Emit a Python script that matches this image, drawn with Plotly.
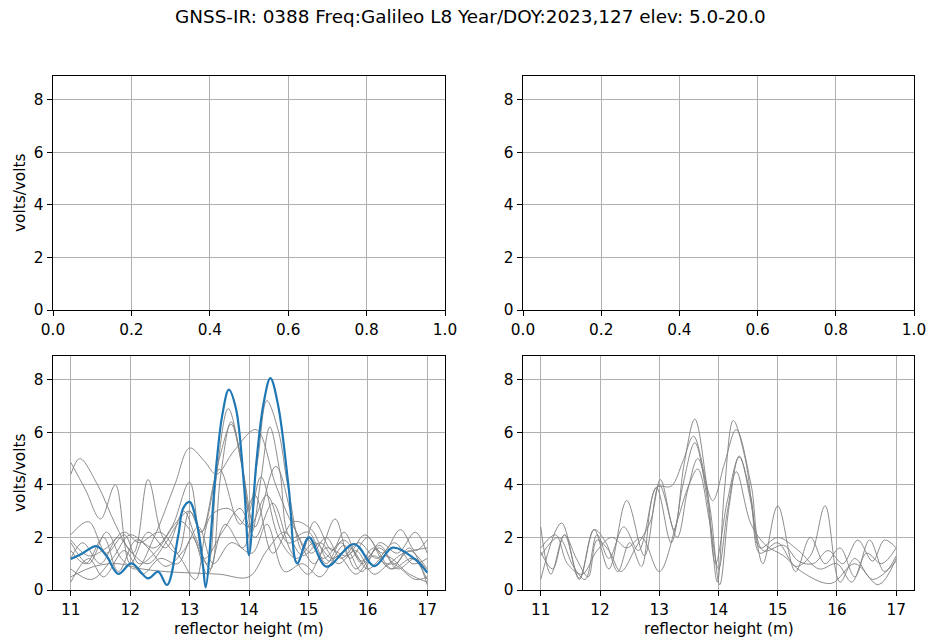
import plotly.graph_objects as go

TITLE = "GNSS-IR: 0388 Freq:Galileo L8 Year/DOY:2023,127 elev: 5.0-20.0"

# Blue (highlighted) track, bottom-left panel
blue_x = [11.0, 11.2, 11.43, 11.6, 11.8, 12.02, 12.3, 12.47, 12.62, 12.81, 12.89, 13.0, 13.14, 13.23, 13.27,
          13.45, 13.55, 13.66, 13.78, 13.92, 14.0, 14.12, 14.24, 14.36, 14.49, 14.67,
          14.81, 15.01, 15.3, 15.77, 16.11, 16.42, 16.79, 17.0]
blue_y = [1.18, 1.4, 1.67, 1.3, 0.61, 1.01, 0.44, 0.70, 0.19, 2.09, 3.1, 3.35, 2.34, 0.82, 0.10,
          4.75, 6.65, 7.62, 6.9, 3.86, 1.33, 4.75, 7.03, 8.06, 7.03, 3.86,
          1.01, 2.00, 0.89, 1.75, 0.91, 1.61, 1.18, 0.66]

# Gray tracks, bottom-left panel
gl1_x = [11.0, 11.15, 11.45, 11.75, 12.0, 12.3, 12.6, 12.85, 13.0, 13.3, 13.45, 13.65, 13.85, 14.0, 14.15, 14.3, 14.5, 14.65, 14.9, 15.1, 15.4, 15.6, 15.9, 16.2, 16.45, 16.7, 17.0]
gl1_y = [4.4, 5.0, 4.0, 2.5, 1.5, 1.0, 1.8, 2.6, 2.3, 1.0, 4.3, 6.9, 5.2, 3.0, 5.0, 7.2, 6.0, 4.0, 1.5, 2.6, 1.5, 2.2, 1.0, 1.7, 1.0, 1.5, 0.8]
gl2_x = [11.0, 11.25, 11.5, 11.75, 12.0, 12.3, 12.6, 12.9, 13.1, 13.35, 13.52, 13.7, 13.9, 14.05, 14.2, 14.35, 14.52, 14.7, 15.0, 15.3, 15.55, 15.8, 16.1, 16.4, 16.75, 17.0]
gl2_y = [4.85, 3.8, 2.7, 4.0, 1.0, 2.2, 1.6, 3.0, 2.0, 0.8, 4.3, 6.4, 4.5, 2.2, 4.2, 6.2, 4.5, 2.0, 2.2, 1.0, 1.8, 0.8, 1.6, 0.8, 1.2, 0.4]
gl3_x = [11.0, 11.3, 11.6, 11.85, 12.1, 12.4, 12.75, 13.0, 13.25, 13.45, 13.75, 14.12, 14.45, 14.75, 15.05, 15.3, 15.55, 15.85, 16.15, 16.45, 16.75, 17.0]
gl3_y = [1.8, 1.0, 2.2, 1.2, 0.8, 2.0, 4.0, 5.4, 4.9, 4.4, 5.3, 6.1, 4.0, 2.4, 1.4, 2.0, 1.2, 1.8, 1.2, 1.8, 1.0, 1.2]
gl4_x = [11.0, 11.2, 11.5, 11.8, 12.05, 12.3, 12.55, 12.8, 13.0, 13.2, 13.5, 13.7, 13.9, 14.1, 14.45, 14.8, 15.1, 15.45, 15.7, 16.0, 16.3, 16.6, 17.0]
gl4_y = [1.2, 1.8, 1.0, 2.0, 1.4, 4.2, 2.0, 1.4, 3.0, 2.2, 5.0, 6.3, 4.5, 2.4, 4.7, 2.2, 1.0, 2.7, 1.2, 2.0, 1.0, 1.4, 1.6]
gl5_x = [11.0, 11.3, 11.55, 11.9, 12.2, 12.5, 12.8, 13.05, 13.3, 13.6, 13.9, 14.2, 14.5, 14.8, 15.1, 15.4, 15.7, 16.0, 16.3, 16.7, 17.0]
gl5_y = [0.3, 1.2, 0.5, 1.5, 0.6, 1.2, 1.0, 2.0, 0.6, 2.5, 1.6, 4.3, 2.0, 1.2, 1.8, 1.2, 1.6, 0.8, 1.3, 0.6, 0.3]
gl6_x = [11.0, 11.4, 11.8, 12.2, 12.6, 13.0, 13.5, 14.0, 14.3, 14.6, 14.9, 15.2, 15.5, 15.8, 16.1, 16.4, 16.8, 17.0]
gl6_y = [0.5, 0.9, 1.0, 0.8, 0.7, 0.65, 0.6, 0.5, 1.5, 2.2, 1.3, 1.8, 1.0, 1.5, 0.6, 1.0, 0.4, 0.5]
gl7_x = [11.0, 11.3, 11.6, 11.9, 12.15, 12.45, 12.75, 13.0, 13.2, 13.5, 13.85, 14.1, 14.4, 14.75, 15.05, 15.35, 15.6, 15.9, 16.2, 16.5, 16.8, 17.0]
gl7_y = [2.1, 2.6, 1.4, 2.1, 1.0, 1.5, 2.5, 3.0, 2.2, 4.6, 2.5, 3.6, 1.4, 2.6, 2.3, 1.1, 1.7, 0.7, 1.8, 1.4, 2.2, 1.4]
gl8_x = [11.0, 11.25, 11.55, 11.8, 12.1, 12.4, 12.7, 13.0, 13.25, 13.55, 13.85, 14.1, 14.4, 14.7, 15.0, 15.3, 15.65, 15.95, 16.25, 16.55, 16.8, 17.0]
gl8_y = [1.5, 1.0, 2.0, 0.7, 1.9, 1.6, 2.4, 4.1, 1.2, 2.2, 3.1, 2.0, 3.3, 1.5, 0.6, 1.6, 1.3, 2.1, 1.4, 2.3, 1.5, 1.9]
gl9_x = [11.0, 11.35, 11.7, 12.0, 12.3, 12.6, 12.9, 13.15, 13.4, 13.7, 14.05, 14.3, 14.6, 14.9, 15.2, 15.5, 15.8, 16.1, 16.4, 16.7, 17.0]
gl9_y = [0.8, 0.4, 1.2, 2.1, 1.6, 0.9, 1.5, 2.4, 1.0, 1.8, 1.4, 2.5, 0.7, 1.0, 0.5, 1.3, 0.6, 1.3, 0.8, 1.6, 0.2]
gl10_x = [11.0, 11.3, 11.6, 11.9, 12.15, 12.5, 12.85, 13.1, 13.35, 13.65, 14.0, 14.3, 14.65, 14.95, 15.25, 15.6, 15.9, 16.2, 16.5, 16.8, 17.0]
gl10_y = [1.9, 1.3, 1.6, 2.2, 1.8, 2.2, 1.2, 0.4, 2.8, 3.1, 2.4, 3.6, 1.8, 2.0, 1.2, 1.9, 1.1, 1.6, 0.8, 1.2, 0.7]

# Gray tracks, bottom-right panel
gr1_x = [11.0, 11.2, 11.4, 11.6, 11.8, 11.95, 12.15, 12.35, 12.6, 12.85, 13.02, 13.25, 13.42, 13.6, 13.8, 13.98, 14.1, 14.25, 14.45, 14.6, 14.75, 15.0, 15.3, 15.55, 15.8, 16.05, 16.3, 16.55, 16.8, 17.0]
gr1_y = [1.45, 0.8, 2.1, 1.2, 0.5, 1.9, 1.5, 0.7, 1.6, 2.6, 4.2, 2.3, 4.8, 6.5, 4.0, 0.3, 3.8, 6.45, 5.0, 2.6, 1.0, 3.2, 0.7, 2.0, 1.0, 1.6, 0.5, 1.9, 0.7, 1.3]
gr2_x = [11.0, 11.17, 11.4, 11.65, 11.9, 12.1, 12.3, 12.5, 12.7, 12.95, 13.2, 13.4, 13.58, 13.9, 14.1, 14.3, 14.55, 14.75, 15.1, 15.35, 15.6, 15.85, 16.1, 16.35, 16.6, 16.8, 17.0]
gr2_y = [2.4, 0.6, 2.1, 0.4, 2.3, 1.8, 0.7, 1.8, 0.9, 3.9, 3.95, 4.9, 5.85, 3.4, 4.8, 6.1, 4.0, 1.5, 1.7, 1.1, 1.0, 1.5, 1.0, 1.9, 1.1, 1.9, 1.6]
gr3_x = [11.0, 11.3, 11.55, 11.75, 11.95, 12.15, 12.4, 12.65, 12.95, 13.2, 13.4, 13.6, 13.8, 13.95, 14.15, 14.35, 14.55, 14.7, 15.0, 15.35, 15.7, 16.0, 16.25, 16.5, 16.75, 17.0]
gr3_y = [1.3, 2.0, 0.9, 0.4, 2.1, 1.2, 2.4, 1.5, 3.9, 1.8, 4.0, 5.6, 3.6, 1.0, 3.4, 5.05, 3.5, 1.6, 2.0, 1.5, 0.8, 1.0, 0.3, 1.4, 1.0, 1.6]
gr4_x = [11.0, 11.35, 11.65, 11.9, 12.15, 12.45, 12.75, 13.0, 13.3, 13.48, 13.65, 13.85, 14.02, 14.18, 14.35, 14.55, 14.7, 15.0, 15.3, 15.55, 15.8, 16.05, 16.3, 16.6, 17.0]
gr4_y = [0.4, 2.55, 0.45, 2.3, 0.8, 3.4, 1.3, 4.0, 2.0, 3.8, 5.0, 3.2, 0.2, 3.2, 5.1, 3.3, 1.4, 1.8, 0.9, 1.3, 3.2, 0.3, 1.2, 0.4, 1.1]
gr5_x = [11.0, 11.25, 11.45, 11.7, 11.95, 12.2, 12.45, 12.7, 13.0, 13.3, 13.5, 13.65, 13.85, 14.0, 14.15, 14.3, 14.55, 14.8, 15.1, 15.4, 15.9, 16.3, 16.7, 17.0]
gr5_y = [1.6, 2.1, 1.0, 0.6, 1.5, 2.0, 1.6, 2.0, 0.7, 2.6, 4.0, 4.6, 2.6, 0.8, 3.0, 4.5, 2.5, 1.7, 1.3, 0.7, 0.25, 1.0, 0.2, 1.2]

X_TOP_TICKS = [0.0, 0.2, 0.4, 0.6, 0.8, 1.0]
X_BOT_TICKS = [11, 12, 13, 14, 15, 16, 17]
Y_TICKS = [0, 2, 4, 6, 8]
Y_LABEL = "volts/volts"
X_LABEL = "reflector height (m)"

W, H = 931, 641
FONT = "DejaVu Sans"
FS = 15.3
GRAY = "#808080"
BLUE = "#1f77b4"

fig = go.Figure()

left_gray = [(gl1_x, gl1_y), (gl2_x, gl2_y), (gl3_x, gl3_y), (gl4_x, gl4_y), (gl5_x, gl5_y),
             (gl6_x, gl6_y), (gl7_x, gl7_y), (gl8_x, gl8_y), (gl9_x, gl9_y), (gl10_x, gl10_y)]
for xs, ys in left_gray:
    fig.add_trace(go.Scatter(x=xs, y=ys, mode="lines", xaxis="x3", yaxis="y3",
                             line=dict(color=GRAY, width=0.9, shape="spline", smoothing=1.0),
                             showlegend=False, hoverinfo="skip"))
fig.add_trace(go.Scatter(x=blue_x, y=blue_y, mode="lines", xaxis="x3", yaxis="y3",
                         line=dict(color=BLUE, width=2.2, shape="spline", smoothing=1.0),
                         showlegend=False))

right_gray = [(gr1_x, gr1_y), (gr2_x, gr2_y), (gr3_x, gr3_y), (gr4_x, gr4_y), (gr5_x, gr5_y)]
for xs, ys in right_gray:
    fig.add_trace(go.Scatter(x=xs, y=ys, mode="lines", xaxis="x4", yaxis="y4",
                             line=dict(color=GRAY, width=0.9, shape="spline", smoothing=1.0),
                             showlegend=False, hoverinfo="skip"))

# empty top panels (need a trace to render axes)
fig.add_trace(go.Scatter(x=[None], y=[None], xaxis="x", yaxis="y", showlegend=False))
fig.add_trace(go.Scatter(x=[None], y=[None], xaxis="x2", yaxis="y2", showlegend=False))

def px_dom_x(a, b):
    return [a / W, b / W]

def px_dom_y(top, bot):
    return [1 - bot / H, 1 - top / H]

LX = px_dom_x(53, 445)
RX = px_dom_x(523, 914)
TY = px_dom_y(76, 310)
BY = px_dom_y(356, 590)

common = dict(showline=True, mirror=True, linecolor="black", linewidth=1.2,
              ticks="outside", ticklen=5.3, tickwidth=1.2, tickcolor="black",
              showgrid=True, gridcolor="#b0b0b0", gridwidth=1.2, zeroline=False,
              automargin=False,
              tickfont=dict(family=FONT, size=FS, color="black"))

yr = [0, 8.9]
fig.update_layout(
    width=W, height=H,
    margin=dict(l=0, r=0, t=0, b=0),
    paper_bgcolor="white", plot_bgcolor="white",
    font=dict(family=FONT, size=FS, color="black"),
    xaxis=dict(domain=LX, anchor="y", range=[0, 1], tickvals=X_TOP_TICKS, tickformat=".1f", **common),
    yaxis=dict(domain=TY, anchor="x", range=yr, tickvals=Y_TICKS, **common),
    xaxis2=dict(domain=RX, anchor="y2", range=[0, 1], tickvals=X_TOP_TICKS, tickformat=".1f", **common),
    yaxis2=dict(domain=TY, anchor="x2", range=yr, tickvals=Y_TICKS, **common),
    xaxis3=dict(domain=LX, anchor="y3", range=[10.7, 17.3], tickvals=X_BOT_TICKS, **common),
    yaxis3=dict(domain=BY, anchor="x3", range=yr, tickvals=Y_TICKS, **common),
    xaxis4=dict(domain=RX, anchor="y4", range=[10.7, 17.3], tickvals=X_BOT_TICKS, **common),
    yaxis4=dict(domain=BY, anchor="x4", range=yr, tickvals=Y_TICKS, **common),
)

ann = [
    dict(text=TITLE, x=470 / W, y=1 - 17 / H, xref="paper", yref="paper",
         xanchor="center", yanchor="middle", showarrow=False,
         font=dict(family=FONT, size=18.4, color="black")),
    dict(text=Y_LABEL, x=20 / W, y=1 - 193 / H, xref="paper", yref="paper", textangle=-90,
         xanchor="center", yanchor="middle", showarrow=False),
    dict(text=Y_LABEL, x=20 / W, y=1 - 473 / H, xref="paper", yref="paper", textangle=-90,
         xanchor="center", yanchor="middle", showarrow=False),
    dict(text=X_LABEL, x=249 / W, y=1 - 629 / H, xref="paper", yref="paper",
         xanchor="center", yanchor="middle", showarrow=False),
    dict(text=X_LABEL, x=719 / W, y=1 - 629 / H, xref="paper", yref="paper",
         xanchor="center", yanchor="middle", showarrow=False),
]
fig.update_layout(annotations=ann)

fig.write_html("out.html")
